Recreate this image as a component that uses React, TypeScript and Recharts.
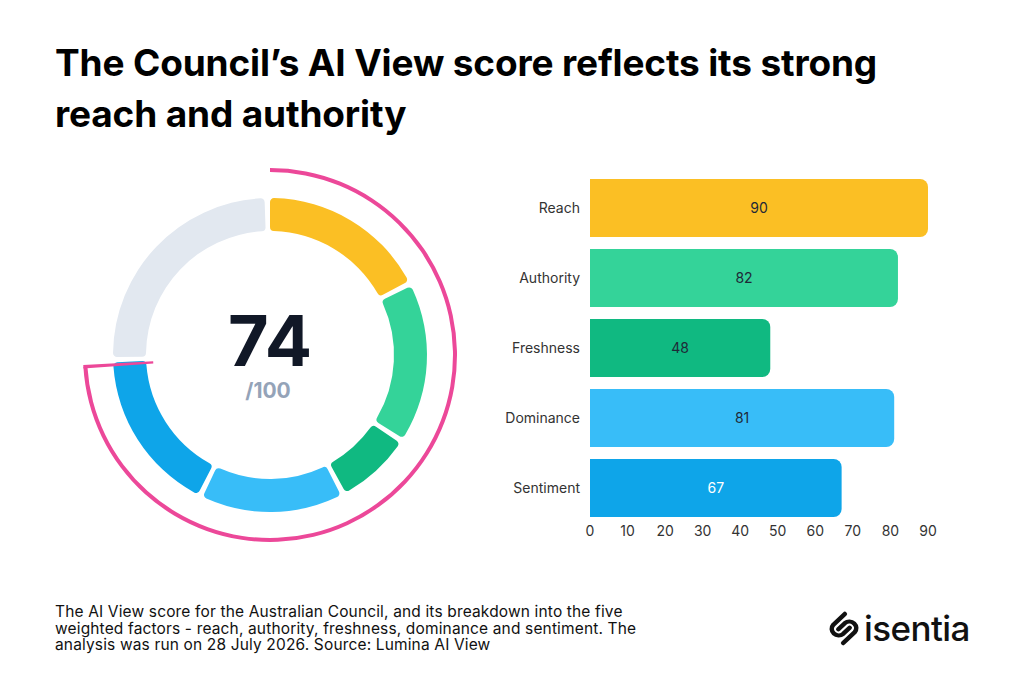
import React from 'react'
import { PieChart, Pie, Cell, BarChart, Bar, XAxis, YAxis } from 'recharts'

const FACTORS = ['Reach', 'Authority', 'Freshness', 'Dominance', 'Sentiment']
const SCORES = [90, 82, 48, 81, 67]
// share of the 100-point total each factor contributes (read from the ring)
const WEIGHTED = [17.8, 16.7, 7.8, 15, 17.2]
const TOTAL_SCORE = 74
const MAX_SCORE = 100
const X_TICKS = [0, 10, 20, 30, 40, 50, 60, 70, 80, 90]

const COLORS = ['#fbbf24', '#34d399', '#10b981', '#38bdf8', '#0ea5e9']
const REMAINDER = '#e2e8f0'
const PINK = '#ec4899'
const FONT = 'Inter, "DejaVu Sans", sans-serif'

const barData = FACTORS.map((name, i) => ({ name, score: SCORES[i] }))

const ringData = [
  ...FACTORS.map((name, i) => ({ name, value: WEIGHTED[i], color: COLORS[i] })),
  { name: 'Remaining', value: MAX_SCORE - WEIGHTED.reduce((a, b) => a + b, 0), color: REMAINDER },
]

const totalArc = [
  { name: 'score', value: TOTAL_SCORE },
  { name: 'rest', value: MAX_SCORE - TOTAL_SCORE },
]

const markerArc = [
  { name: 'before', value: TOTAL_SCORE - 0.15 },
  { name: 'marker', value: 0.3 },
  { name: 'after', value: MAX_SCORE - TOTAL_SCORE - 0.15 },
]

function BarValue(props: any) {
  const { x, y, width, height, value, index } = props
  return (
    <text
      x={x + width / 2}
      y={y + height / 2}
      dy={5}
      textAnchor="middle"
      fontSize={14}
      fontFamily={FONT}
      fill={index === 4 ? '#ffffff' : '#1f2937'}
    >
      {value}
    </text>
  )
}

function Logo() {
  return (
    <>
      <svg
        style={{ position: 'absolute', left: 829, top: 610 }}
        width={30}
        height={37}
        viewBox="5 3 26 34"
        preserveAspectRatio="none"
      >
        <g fill="none" stroke="#111" strokeWidth={4} strokeLinecap="round" strokeLinejoin="round">
          <path d="M18.7 6.6 L8.8 16.5 A6 6 0 0 0 17.3 24.9 L22.9 19.3" />
          <path d="M17.3 33.4 L27.2 23.5 A6 6 0 0 0 18.7 15.1 L13.1 20.7" />
        </g>
      </svg>
      <div
        style={{
          position: 'absolute',
          left: 864,
          top: 611,
          fontFamily: FONT,
          fontSize: 35,
          lineHeight: '35px',
          fontWeight: 500,
          color: '#111',
          letterSpacing: -0.6,
        }}
      >
        isentia
      </div>
    </>
  )
}

export default function App() {
  const titleStyle: React.CSSProperties = {
    position: 'absolute',
    left: 55,
    fontSize: 37,
    lineHeight: '37px',
    fontWeight: 700,
    color: '#000',
    letterSpacing: -0.15,
    whiteSpace: 'nowrap',
  }
  return (
    <div
      style={{
        position: 'absolute',
        left: 0,
        top: 0,
        width: 1024,
        height: 683,
        background: '#ffffff',
        overflow: 'hidden',
        fontFamily: FONT,
      }}
    >
      <div style={{ ...titleStyle, top: 44 }}>The Council’s AI View score reflects its strong</div>
      <div style={{ ...titleStyle, top: 95 }}>reach and authority</div>

      <div style={{ position: 'absolute', left: 70, top: 155 }}>
        <PieChart width={400} height={400} margin={{ top: 0, right: 0, bottom: 0, left: 0 }}>
          <Pie
            data={ringData}
            dataKey="value"
            cx={200}
            cy={200}
            innerRadius={124}
            outerRadius={157}
            startAngle={90}
            endAngle={-270}
            paddingAngle={2}
            cornerRadius={4}
            stroke="none"
            isAnimationActive={false}
          >
            {ringData.map((d, i) => (
              <Cell key={`ring-${i}`} fill={d.color} />
            ))}
          </Pie>
          <Pie
            data={totalArc}
            dataKey="value"
            cx={200}
            cy={200}
            innerRadius={183}
            outerRadius={187}
            startAngle={90}
            endAngle={-270}
            stroke="none"
            isAnimationActive={false}
          >
            <Cell fill={PINK} />
            <Cell fill="transparent" />
          </Pie>
          <Pie
            data={markerArc}
            dataKey="value"
            cx={200}
            cy={200}
            innerRadius={117}
            outerRadius={187}
            startAngle={90}
            endAngle={-270}
            stroke="none"
            isAnimationActive={false}
          >
            <Cell fill="transparent" />
            <Cell fill={PINK} />
            <Cell fill="transparent" />
          </Pie>
        </PieChart>
      </div>

      <div style={{ position: 'absolute', left: 170, top: 306, width: 200, textAlign: 'center', fontSize: 70, lineHeight: '70px', fontWeight: 700, color: '#111827' }}>
        {TOTAL_SCORE}
      </div>
      <div style={{ position: 'absolute', left: 168, top: 380, width: 200, textAlign: 'center', fontSize: 21, lineHeight: '21px', fontWeight: 700, color: '#94a3b8' }}>
        /{MAX_SCORE}
      </div>

      <div style={{ position: 'absolute', left: 490, top: 160 }}>
        <BarChart
          width={460}
          height={390}
          data={barData}
          layout="vertical"
          margin={{ top: 13, right: 22, bottom: 0, left: 0 }}
        >
          <XAxis
            type="number"
            domain={[0, 90]}
            ticks={X_TICKS}
            axisLine={false}
            tickLine={false}
            tickSize={0}
            tickMargin={3}
            height={27}
            tick={{ fontSize: 14, fill: '#333', fontFamily: FONT }}
          />
          <YAxis
            type="category"
            dataKey="name"
            width={100}
            axisLine={false}
            tickLine={false}
            tickSize={0}
            tickMargin={10}
            tick={{ fontSize: 14, fill: '#333', fontFamily: FONT }}
          />
          <Bar dataKey="score" barSize={58} radius={[0, 8, 8, 0]} isAnimationActive={false} label={<BarValue />}>
            {barData.map((d, i) => (
              <Cell key={`bar-${i}`} fill={COLORS[i]} />
            ))}
          </Bar>
        </BarChart>
      </div>

      <div style={{ position: 'absolute', left: 55, top: 604, fontSize: 15.5, lineHeight: '16.5px', color: '#111', letterSpacing: 0.15, whiteSpace: 'nowrap' }}>
        The AI View score for the Australian Council, and its breakdown into the five
        <br />
        weighted factors - reach, authority, freshness, dominance and sentiment. The
        <br />
        analysis was run on 28 July 2026. Source: Lumina AI View
      </div>

      <Logo />
    </div>
  )
}
